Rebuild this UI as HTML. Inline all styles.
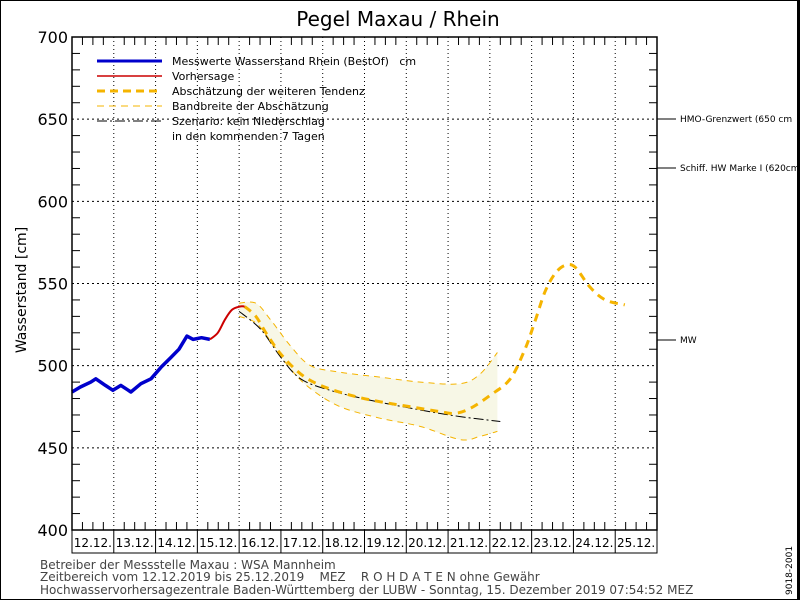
<!DOCTYPE html>
<html><head><meta charset="utf-8"><style>
body{margin:0;background:#fff}
svg{display:block;font-family:"DejaVu Sans","Liberation Sans",sans-serif}
</style></head><body>
<svg id="c" width="800" height="600" xmlns="http://www.w3.org/2000/svg">
<rect x="0.5" y="0.5" width="799" height="599" fill="#fff" stroke="#000"/>
<text x="398" y="26" font-size="20" text-anchor="middle">Pegel Maxau / Rhein</text>
<text transform="translate(26,290) rotate(-90)" font-size="14" text-anchor="middle">Wasserstand [cm]</text>
<g id="grid"></g><g id="marks"></g><g id="axes"></g>
<g font-size="11">
<line x1="97" y1="61" x2="162" y2="61" stroke="#0000cc" stroke-width="3"/>
<text x="172" y="65">Messwerte Wasserstand Rhein (BestOf)&#160;&#160; cm</text>
<line x1="97" y1="76" x2="162" y2="76" stroke="#cc0000" stroke-width="1.5"/>
<text x="172" y="80">Vorhersage</text>
<line x1="97" y1="91" x2="162" y2="91" stroke="#f5b400" stroke-width="3" stroke-dasharray="8,5"/>
<text x="172" y="95">Abschätzung der weiteren Tendenz</text>
<line x1="97" y1="106" x2="162" y2="106" stroke="#f5b400" stroke-width="1" stroke-dasharray="7,5"/>
<text x="172" y="110">Bandbreite der Abschätzung</text>
<line x1="97" y1="121" x2="162" y2="121" stroke="#000" stroke-width="1" stroke-dasharray="10,3,2,3"/>
<text x="172" y="125">Szenario: kein Niederschlag</text>
<text x="172" y="140">in den kommenden 7 Tagen</text>
</g>
<g font-size="9">
<line x1="657" y1="119" x2="676" y2="119" stroke="#000"/>
<text x="680" y="122">HMO-Grenzwert (650 cm</text>
<line x1="657" y1="168" x2="676" y2="168" stroke="#000"/>
<text x="680" y="171">Schiff. HW Marke I (620cm</text>
<line x1="657" y1="340" x2="676" y2="340" stroke="#000"/>
<text x="680" y="343">MW</text>
</g>
<rect x="797" y="0" width="3" height="600" fill="#000"/>
<g font-size="12" fill="#444">
<text x="40" y="569">Betreiber der Messstelle Maxau : WSA Mannheim</text>
<text x="40" y="581">Zeitbereich vom 12.12.2019 bis 25.12.2019&#160;&#160;&#160;&#160;MEZ&#160;&#160;&#160;&#160;R&#160;O&#160;H&#160;D&#160;A&#160;T&#160;E&#160;N ohne Gewähr</text>
<text x="40" y="594">Hochwasservorhersagezentrale Baden-Württemberg der LUBW - Sonntag, 15. Dezember 2019 07:54:52 MEZ</text>
</g>
<text transform="translate(792,595) rotate(-90)" font-size="9">9018-2001</text>
</svg>
<script>
const dayLabels=["12.12.","13.12.","14.12.","15.12.","16.12.","17.12.","18.12.","19.12.","20.12.","21.12.","22.12.","23.12.","24.12.","25.12."];
const yTicks=[400,450,500,550,600,650,700];
const measT=[0,0.2,0.45,0.57,0.8,0.98,1.17,1.41,1.65,1.89,2.13,2.37,2.56,2.75,2.9,3.1,3.3];
const measV=[484,487,490,492,488,485,488,484,489,492,499,505,510,518,516,517,516];
const fcT=[3.3,3.49,3.66,3.83,4.02,4.13];
const fcV=[516,520,528,534,536,536];
const tendT=[4.13,4.4,4.64,5.0,5.47,5.95,6.66,7.38,8.1,8.81,9.17,9.53,10.01,10.49,10.84,11.08,11.32,11.56,11.8,12.04,12.39,12.76,13.23];
const tendV=[536,530,520,507,495,488,482,478,475,472,471,474,482,492,510,527,545,556,561,560,548,540,537];
const bandT=[4.0,4.4,4.75,5.23,5.71,6.42,7.38,8.34,9.29,9.77,10.18];
const bandHi=[538,538,528,512,500,496,493,490,489,495,508];
const bandLo=[530,526,515,498,486,475,468,463,455,457,460];
const scenT=[4.0,4.52,5.0,5.47,6.18,7.14,8.34,9.29,10.25];
const scenV=[533,522,505,492,485,479,473,469,466];
const L=72,R=657,T=37,B=530,NS="http://www.w3.org/2000/svg";
const x=t=>L+t*(R-L)/14, y=v=>B-(v-400)*(B-T)/300;
function el(p,tag,a){const e=document.createElementNS(NS,tag);for(const k in a)e.setAttribute(k,a[k]);document.getElementById(p).appendChild(e);return e;}
function smooth(ts,vs,cont){const P=ts.map((t,i)=>[x(t),y(vs[i])]);let d=(cont?"L":"M")+P[0][0].toFixed(1)+","+P[0][1].toFixed(1);
for(let i=0;i<P.length-1;i++){const p0=P[i-1]||P[i],p1=P[i],p2=P[i+1],p3=P[i+2]||p2;
const c1=[p1[0]+(p2[0]-p0[0])/6,p1[1]+(p2[1]-p0[1])/6],c2=[p2[0]-(p3[0]-p1[0])/6,p2[1]-(p3[1]-p1[1])/6];
d+=" C"+c1.map(n=>n.toFixed(1))+" "+c2.map(n=>n.toFixed(1))+" "+p2.map(n=>n.toFixed(1));}return d;}
const pts=(ts,vs)=>ts.map((t,i)=>x(t).toFixed(1)+","+y(vs[i]).toFixed(1)).join(" ");
for(let d=1;d<14;d++){const g=el("grid","line",{x1:x(d),x2:x(d),y1:T,y2:B,stroke:"#000","stroke-dasharray":"1,3"});

}
yTicks.slice(1,-1).forEach(v=>{const g=el("grid","line",{x1:L,x2:R,y1:y(v),y2:y(v),stroke:"#000","stroke-dasharray":"2,3"});

});
const rT=bandT.slice().reverse(),rLo=bandLo.slice().reverse();
const bp=el("marks","path",{d:smooth(bandT,bandHi)+" "+smooth(rT,rLo,true)+" Z",fill:"#f7f7e6",stroke:"none"});


[bandHi,bandLo].forEach((b,i)=>{const l=el("marks","path",{d:smooth(bandT,b),fill:"none",stroke:"#f5b400","stroke-width":1,"stroke-dasharray":"6,5"});

});
const sc=el("marks","path",{d:smooth(scenT,scenV),fill:"none",stroke:"#000","stroke-width":1,"stroke-dasharray":"10,3,2,3"});


const td=el("marks","path",{d:smooth(tendT,tendV),fill:"none",stroke:"#f5b400","stroke-width":3,"stroke-dasharray":"8,6"});


const ms=el("marks","polyline",{points:pts(measT,measV),fill:"none",stroke:"#0000cc","stroke-width":3.5,"stroke-linejoin":"round"});


const fc=el("marks","path",{d:smooth(fcT,fcV),fill:"none",stroke:"#cc0000","stroke-width":2});


const fr=el("axes","rect",{x:L,y:T,width:R-L,height:B-T,fill:"none",stroke:"#000","stroke-width":1.5});


for(let v=410;v<700;v+=10){if(v%50===0)continue;el("axes","line",{x1:L,x2:L+8,y1:y(v),y2:y(v),stroke:"#000"});el("axes","line",{x1:R-8,x2:R,y1:y(v),y2:y(v),stroke:"#000"});}
for(let q=1;q<56;q++){if(q%4===0)continue;const xx=x(q/4);el("axes","line",{x1:xx,x2:xx,y1:T,y2:T+8,stroke:"#000"});el("axes","line",{x1:xx,x2:xx,y1:B-8,y2:B,stroke:"#000"});}
yTicks.forEach(v=>{const t=el("axes","text",{x:L-4,y:y(v)+6,"font-size":16,"text-anchor":"end"});t.textContent=v;

});
el("axes","rect",{x:L,y:B,width:R-L,height:23,fill:"none",stroke:"#000"});
dayLabels.forEach((d,i)=>{el("axes","line",{x1:x(i),x2:x(i),y1:B,y2:B+23,stroke:"#000"});
const t=el("axes","text",{x:x(i+0.5),y:B+17,"font-size":12,"text-anchor":"middle"});t.textContent=d;

});
</script>
</body></html>
